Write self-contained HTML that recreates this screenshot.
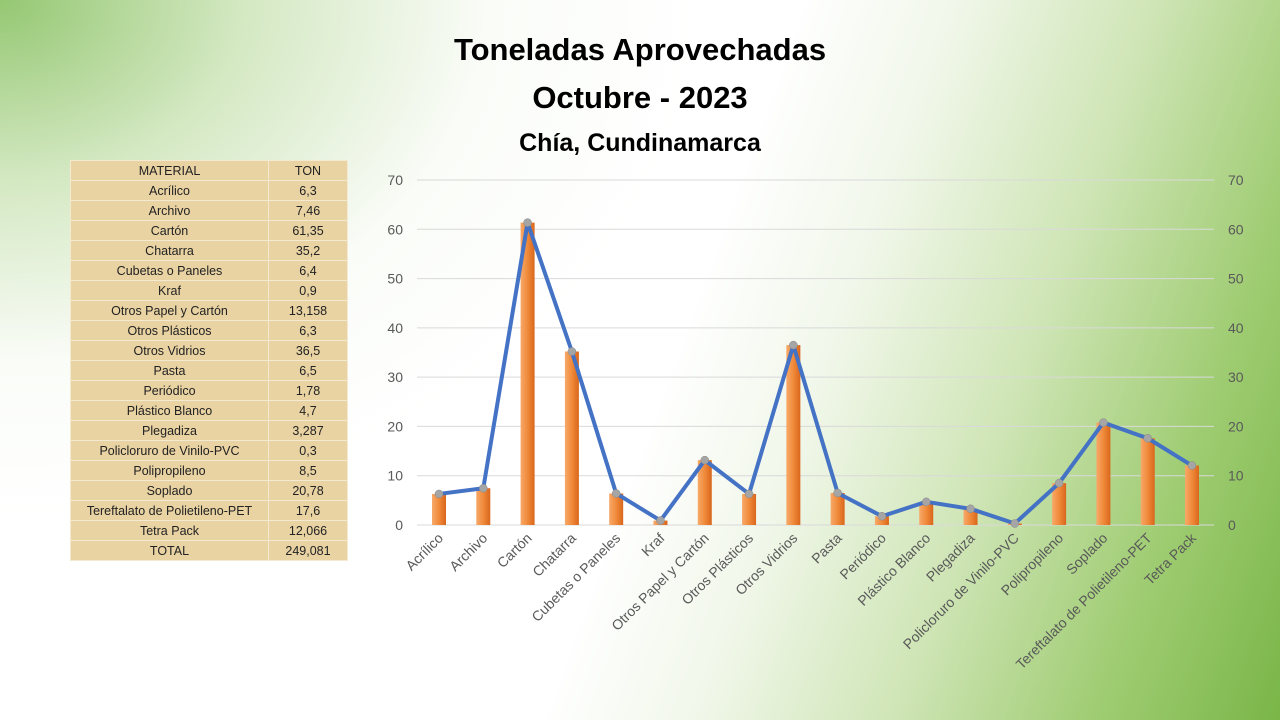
<!DOCTYPE html>
<html><head><meta charset="utf-8"><style>
html,body{margin:0;padding:0}
body{width:1280px;height:720px;overflow:hidden;position:relative;font-family:"Liberation Sans",sans-serif;
background:
radial-gradient(ellipse 700px 520px at 0px 0px,rgba(130,190,90,0.85) 0%,rgba(170,210,135,0.5) 35%,rgba(230,242,220,0.2) 70%,rgba(255,255,255,0) 100%),
linear-gradient(110deg,#ffffff 0%,#ffffff 52%,#f1f7ea 62%,#cfe5b6 75%,#9fcc72 88%,#7ab648 100%);}
.t{position:absolute;left:0;width:1280px;text-align:center;font-weight:bold;color:#000}
table{position:absolute;left:70px;top:160px;border-collapse:collapse;font-size:12.5px;color:#222}
td{height:19px;padding:0;text-align:center;border:1px solid #f4ead2;background:#e9d3a3}
td.a{width:197px}td.b{width:78px}
</style></head><body>
<div class="t" style="top:32px;font-size:31px">Toneladas Aprovechadas</div>
<div class="t" style="top:80px;font-size:31px">Octubre - 2023</div>
<div class="t" style="top:129px;font-size:25px">Chía, Cundinamarca</div>
<table>
<tr><td class="a">MATERIAL</td><td class="b">TON</td></tr>
<tr><td class="a">Acrílico</td><td class="b">6,3</td></tr>
<tr><td class="a">Archivo</td><td class="b">7,46</td></tr>
<tr><td class="a">Cartón</td><td class="b">61,35</td></tr>
<tr><td class="a">Chatarra</td><td class="b">35,2</td></tr>
<tr><td class="a">Cubetas o Paneles</td><td class="b">6,4</td></tr>
<tr><td class="a">Kraf</td><td class="b">0,9</td></tr>
<tr><td class="a">Otros Papel y Cartón</td><td class="b">13,158</td></tr>
<tr><td class="a">Otros Plásticos</td><td class="b">6,3</td></tr>
<tr><td class="a">Otros Vidrios</td><td class="b">36,5</td></tr>
<tr><td class="a">Pasta</td><td class="b">6,5</td></tr>
<tr><td class="a">Periódico</td><td class="b">1,78</td></tr>
<tr><td class="a">Plástico Blanco</td><td class="b">4,7</td></tr>
<tr><td class="a">Plegadiza</td><td class="b">3,287</td></tr>
<tr><td class="a">Policloruro de Vinilo-PVC</td><td class="b">0,3</td></tr>
<tr><td class="a">Polipropileno</td><td class="b">8,5</td></tr>
<tr><td class="a">Soplado</td><td class="b">20,78</td></tr>
<tr><td class="a">Tereftalato de Polietileno-PET</td><td class="b">17,6</td></tr>
<tr><td class="a">Tetra Pack</td><td class="b">12,066</td></tr>
<tr><td class="a">TOTAL</td><td class="b">249,081</td></tr>
</table>
<svg id="c" width="1280" height="720" style="position:absolute;left:0;top:0" font-family="Liberation Sans, sans-serif"></svg>
<script>
const names=["Acrílico","Archivo","Cartón","Chatarra","Cubetas o Paneles","Kraf","Otros Papel y Cartón","Otros Plásticos","Otros Vidrios","Pasta","Periódico","Plástico Blanco","Plegadiza","Policloruro de Vinilo-PVC","Polipropileno","Soplado","Tereftalato de Polietileno-PET","Tetra Pack"];
const v=[6.3,7.46,61.35,35.2,6.4,0.9,13.158,6.3,36.5,6.5,1.78,4.7,3.287,0.3,8.5,20.78,17.6,12.066];
const y0=525,k=(525-180)/70,x0=439,dx=(1192-439)/17;
let s='<defs><linearGradient id="g" x1="0" x2="1"><stop offset="0" stop-color="#f7a96a"/><stop offset="0.5" stop-color="#f08a3a"/><stop offset="1" stop-color="#d9661c"/></linearGradient></defs>';
for(let i=0;i<=7;i++){const y=y0-i*10*k;s+=`<line x1="417" x2="1214" y1="${y}" y2="${y}" stroke="#d9d9d9"/>`;
s+=`<text x="403" y="${y+5}" text-anchor="end" font-size="14" fill="#595959">${i*10}</text><text x="1228" y="${y+5}" font-size="14" fill="#595959">${i*10}</text>`;}
let pts=[];
v.forEach((d,i)=>{const x=x0+i*dx,y=y0-d*k;s+=`<rect x="${x-7}" y="${y}" width="14" height="${y0-y}" fill="url(#g)"/>`;pts.push(x+','+y);
s+=`<text transform="translate(${x+5},${y0+14}) rotate(-45)" text-anchor="end" font-size="14" fill="#595959">${names[i]}</text>`;});
s+=`<polyline points="${pts.join(' ')}" fill="none" stroke="#4472c4" stroke-width="4" stroke-linejoin="round"/>`;
pts.forEach(p=>{const [x,y]=p.split(',');s+=`<circle cx="${x}" cy="${y}" r="4" fill="#a5a5a5" stroke="#888" stroke-width="0.5"/>`;});
document.getElementById('c').innerHTML=s;
</script>
</body></html>
